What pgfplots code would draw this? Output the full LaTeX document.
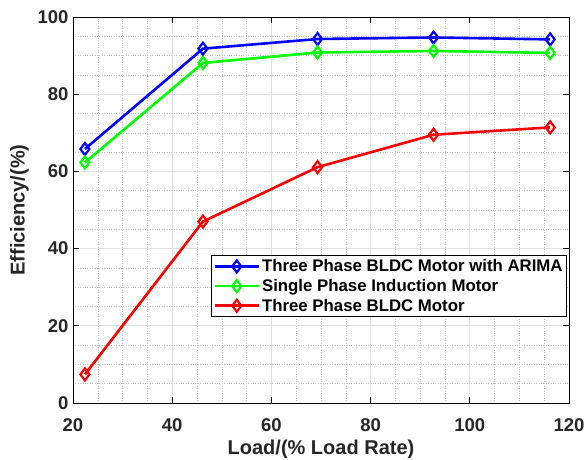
\documentclass[border=0pt]{standalone}
\usepackage{pgfplots}
\pgfplotsset{compat=1.18}
\usepackage{fontspec}
\setmainfont{Liberation Sans}
\definecolor{tickgray}{RGB}{38,38,38}
\begin{document}
\begin{tikzpicture}
\path[use as bounding box] (0pt,0pt) rectangle (585pt,459pt);
\begin{axis}[
  at={(73pt,56pt)}, anchor=south west,
  width=496pt, height=386pt, scale only axis,
  xmin=20, xmax=120, ymin=0, ymax=100,
  xtick={20,40,...,120}, ytick={0,20,...,100},
  minor x tick num=3, minor y tick num=3,
  grid=both,
  major grid style={gray!25, line width=0.8pt},
  minor grid style={gray!45, dotted, line width=0.6pt},
  minor tick length=0pt,
  major tick length=6pt,
  tick align=inside,
  tick style={black, line width=0.8pt},
  axis line style={black, line width=0.8pt},
  ticklabel style={font=\fontsize{18.5}{20}\selectfont\bfseries, text=tickgray},
  xticklabel style={yshift=-12pt},
  yticklabel style={xshift=-1pt},
  /pgf/number format/assume math mode=true,
  xlabel={Load/(\% Load Rate)},
  ylabel={Efficiency/(\%)},
  label style={font=\fontsize{20}{22}\selectfont\bfseries, text=tickgray},
  xlabel style={yshift=-2pt},
  ylabel style={yshift=2pt},
  legend style={at={(0.996,0.383)}, anchor=north east,
     font=\fontsize{16.8}{19}\selectfont\bfseries, draw=black, line width=0.8pt,
     inner sep=2pt, row sep=2pt, cells={anchor=west}},
  legend cell align=left,
  legend image code/.code={
     \draw[#1] (0pt,0pt) -- (44pt,0pt);
     \draw[#1, mark repeat=2, mark phase=2] plot coordinates {(0pt,0pt) (22pt,0pt) (44pt,0pt)};
  },
  every axis plot/.append style={line width=2.6pt, mark=diamond, mark size=6pt,
     mark options={solid, line width=2.2pt, fill=white}},
]
\addplot[color={rgb,255:red,0;green,0;blue,255}] coordinates {(22.4,65.8) (46.2,91.8) (69.3,94.3) (92.7,94.7) (116.2,94.2)};
\addlegendentry{Three Phase BLDC Motor with ARIMA}
\addplot[color={rgb,255:red,0;green,255;blue,0}] coordinates {(22.4,62.3) (46.2,88.1) (69.3,90.8) (92.7,91.2) (116.2,90.7)};
\addlegendentry{Single Phase Induction Motor}
\addplot[color={rgb,255:red,255;green,0;blue,0}] coordinates {(22.4,7.4) (46.2,47.0) (69.3,61.1) (92.7,69.5) (116.2,71.4)};
\addlegendentry{Three Phase BLDC Motor}
\end{axis}
\end{tikzpicture}
\end{document}
